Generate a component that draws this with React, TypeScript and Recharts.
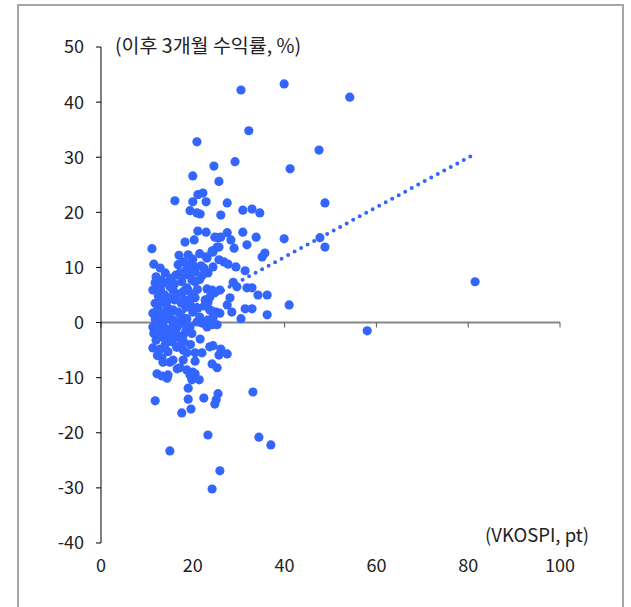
import { ScatterChart, Scatter, XAxis, YAxis, ReferenceLine } from 'recharts';

// VKOSPI level (pt) and following 3-month return (%)
const vkospi = [
  30.5, 39.9, 54.2, 32.2, 20.9, 47.5, 29.2, 24.6, 41.2, 20.0, 25.7, 22.2, 21.1, 16.1, 20.0, 22.9, 27.5, 30.9, 32.9, 34.6,
  48.8, 19.4, 20.9, 21.6, 26.1, 21.1, 22.9, 18.3, 20.3, 25.5, 26.1, 27.5, 28.3, 29.0, 30.9, 31.8, 33.8, 39.9, 47.7, 48.8,
  11.1, 19.0, 23.1, 24.2, 25.7, 26.8, 27.7, 35.1, 35.7, 11.5, 12.9, 16.8, 19.0, 19.6, 20.5, 21.8, 22.4, 24.4, 29.4, 31.4,
  28.8, 29.6, 31.8, 32.9, 34.2, 36.2, 41.0, 25.9, 28.1, 27.5, 31.4, 32.9, 36.2, 30.5, 28.5, 25.9, 81.5, 58.0, 24.8, 25.3,
  24.2, 22.9, 17.2, 19.4, 20.5, 23.3, 19.8, 20.5, 17.6, 13.1, 13.9, 11.8, 12.4, 11.3, 15.0, 15.7, 18.7, 17.9, 23.1, 24.2,
  24.8, 19.8, 20.5, 19.4, 13.9, 15.0, 16.1, 13.5, 22.7, 23.3, 11.8, 12.4, 14.4, 15.7, 16.8, 21.1, 20.0, 23.7, 25.1, 11.3,
  12.9, 14.4, 15.5, 17.6, 18.7, 20.9, 22.0, 23.3, 24.2, 12.9, 15.7, 17.9, 11.3, 13.9, 16.6, 19.4, 23.1, 25.3, 12.0, 13.3,
  15.0, 16.8, 17.9, 21.6, 11.3, 12.9, 14.6, 17.2, 17.9, 18.7, 20.5, 23.7, 24.4, 26.1, 25.7, 27.5, 13.3, 13.5, 15.0, 15.7,
  17.2, 16.6, 17.9, 18.7, 20.0, 20.5, 19.4, 12.2, 13.3, 14.4, 14.6, 24.2, 25.3, 19.8, 21.4, 19.0, 33.1, 11.8, 19.0, 22.4,
  25.5, 25.1, 24.8, 19.6, 17.6, 23.3, 34.4, 37.0, 15.0, 25.9, 24.2, 23.7, 24.2, 24.4, 25.7, 24.4, 12.0, 14.0, 15.2, 16.0,
  18.0, 18.5, 12.5, 14.5, 16.5, 17.5, 18.5, 19.5, 13.0, 14.0, 15.0, 16.0, 17.0, 18.5, 19.8, 12.0, 13.0, 14.5, 15.5, 16.5,
  14.0, 12.5, 11.8, 13.5, 15.2, 16.2, 18.0, 19.0, 21.0, 21.5, 22.0, 20.0, 18.0, 17.0, 21.5, 22.5, 21.5, 19.5, 18.0, 13.0,
  14.8, 16.3, 12.3, 11.5, 20.5, 22.0,
];

const returns3m = [
  42.2, 43.3, 40.9, 34.8, 32.8, 31.3, 29.2, 28.4, 27.9, 26.6, 25.6, 23.5, 23.2, 22.1, 21.9, 21.9, 21.7, 20.4, 20.6, 19.9,
  21.7, 20.3, 19.9, 19.7, 19.5, 16.6, 16.4, 14.6, 15.0, 15.4, 15.5, 16.3, 15.0, 13.5, 16.4, 14.1, 15.5, 15.2, 15.4, 13.7,
  13.4, 12.3, 11.7, 13.0, 11.4, 11.0, 10.6, 11.9, 12.6, 10.6, 9.9, 10.5, 10.6, 10.3, 10.1, 10.3, 9.9, 10.1, 10.1, 9.4,
  7.3, 6.5, 6.3, 6.3, 5.0, 5.0, 3.2, 5.9, 4.5, 3.2, 2.5, 2.5, 1.4, 0.7, 1.9, 1.7, 7.4, -1.5, 15.5, 13.7,
  12.8, 11.9, 9.0, 8.6, 9.2, 9.0, 7.7, 7.4, 7.4, 7.7, 7.2, 7.2, 6.5, 5.9, 6.5, 5.9, 6.3, 5.6, 6.1, 5.9,
  5.4, 5.0, 4.5, 4.1, 5.0, 4.5, 4.1, 3.7, 4.1, 3.7, 3.5, 2.6, 2.8, 2.3, 1.9, 2.6, 1.9, 2.3, 1.9, 1.7,
  1.0, 0.8, 0.5, 1.0, 0.7, 0.1, -0.1, 0.5, -0.4, -0.1, -0.1, -0.1, -0.8, -1.0, -0.8, -0.8, -0.8, -0.4, -3.2, -2.6,
  -2.8, -2.6, -2.3, -3.0, -4.6, -4.8, -5.3, -4.1, -5.0, -5.5, -5.5, -4.4, -4.2, -4.8, -5.9, -5.7, -6.4, -7.2, -7.2, -6.8,
  -8.2, -8.4, -6.8, -8.6, -9.0, -9.3, -9.5, -9.3, -9.7, -10.1, -9.5, -7.5, -8.2, -10.4, -10.4, -11.9, -12.6, -14.2, -13.9, -13.7,
  -12.9, -14.0, -14.8, -15.7, -16.4, -20.4, -20.8, -22.2, -23.3, -26.9, -30.2, 4.6, 2.1, 0.8, 13.7, 12.8, 8.3, 9.0, 8.0, 7.0,
  8.5, 9.5, 4.8, 4.0, 5.2, 3.5, 2.8, 3.2, 1.8, 1.3, 1.5, 0.3, -0.3, -1.5, -2.0, -1.8, -1.5, -2.0, -3.5, -4.5,
  -4.0, 0.2, 0.6, 0.0, -1.2, -1.8, 4.2, 5.8, 6.0, 7.8, 8.5, 11.5, 11.0, 12.2, 12.5, 3.0, 1.0, -4.0, -3.5, 5.8,
  7.3, 8.6, -6.0, -2.0, -7.0, -5.5,
];

const xTicks = [0, 20, 40, 60, 80, 100];
const yTicks = [50, 40, 30, 20, 10, 0, -10, -20, -30, -40];

// linear trend, end points
const trendLine = [
  { x: 11, y: -1.2 },
  { x: 81, y: 30.4 },
];

const yLabel = '(이후 3개월 수익률, %)';
const xLabel = '(VKOSPI, pt)';

const points = vkospi.map((x, i) => ({ x, y: returns3m[i] }));

const font = '"Noto Sans CJK KR", "Noto Sans", sans-serif';
const tickStyle = { fontSize: 18, fill: '#222', fontFamily: font };
const frameColor = '#a6a6a6';

const Dot = (props: any) => <circle cx={props.cx} cy={props.cy} r={4.6} fill="#3366ff" />;

const App = () => {
  return (
    <div style={{ position: 'fixed', left: 0, top: 0, width: 631, height: 607, overflow: 'hidden', background: '#fff' }}>
      <div style={{ position: 'absolute', left: 0, top: 0 }}>
        <ScatterChart width={631} height={607} margin={{ top: 47, right: 71, bottom: 34, left: 0 }}>
          <XAxis
            dataKey="x"
            type="number"
            domain={[0, 100]}
            ticks={xTicks}
            interval={0}
            axisLine={false}
            tickLine={false}
            tickMargin={10}
            height={30}
            tick={tickStyle}
          />
          <YAxis
            dataKey="y"
            type="number"
            domain={[-40, 50]}
            ticks={yTicks}
            interval={0}
            width={101}
            axisLine={{ stroke: '#000', strokeWidth: 1 }}
            tickLine={{ stroke: '#000' }}
            tickSize={5}
            tickMargin={12}
            tick={tickStyle}
          />
          <ReferenceLine segment={[{ x: 0, y: 0 }, { x: 100, y: 0 }]} stroke="#868686" strokeWidth={2} />
          {xTicks.map((t) => (
            <ReferenceLine key={t} segment={[{ x: t, y: 0 }, { x: t, y: -0.9 }]} stroke="#555" strokeWidth={1} />
          ))}
          <Scatter data={points} shape={Dot} isAnimationActive={false} />
          <ReferenceLine
            segment={trendLine}
            stroke="#3366ff"
            strokeWidth={4}
            strokeDasharray="0 7.4"
            strokeLinecap="round"
          />
        </ScatterChart>
      </div>
      {/* outer frame: top, left, right edges only */}
      <div style={{ position: 'absolute', zIndex: 5, left: 17, top: 4, width: 607, height: 2, background: frameColor }} />
      <div style={{ position: 'absolute', zIndex: 5, left: 17, top: 4, width: 2, height: 603, background: frameColor }} />
      <div style={{ position: 'absolute', zIndex: 5, left: 622, top: 4, width: 2, height: 603, background: frameColor }} />
      <div style={{ position: 'absolute', zIndex: 5, left: 115, top: 30, fontFamily: font, fontSize: 19.5, color: '#222', whiteSpace: 'nowrap' }}>
        {yLabel}
      </div>
      <div style={{ position: 'absolute', zIndex: 5, right: 42, top: 521, fontFamily: font, fontSize: 18.5, color: '#222', whiteSpace: 'nowrap' }}>
        {xLabel}
      </div>
    </div>
  );
};

export default App;
